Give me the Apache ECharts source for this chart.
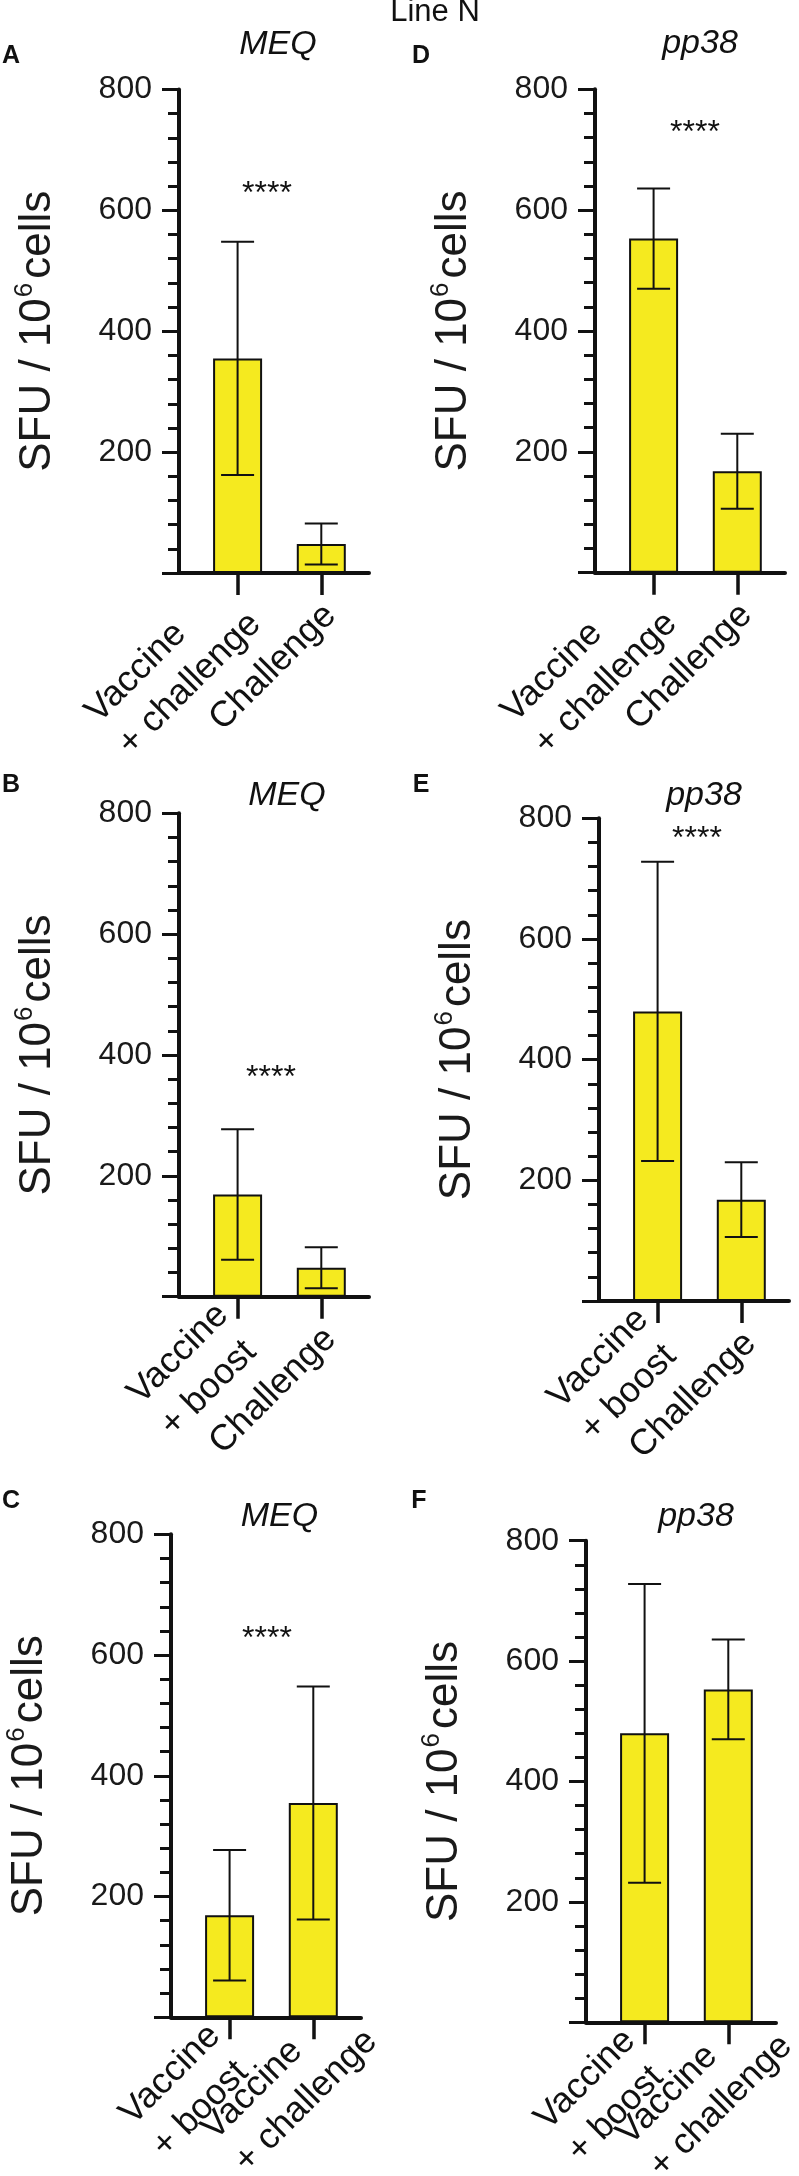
<!DOCTYPE html>
<html>
<head>
<meta charset="utf-8">
<script src="https://cdn.jsdelivr.net/npm/echarts@6/dist/echarts.min.js"></script>
<style>
html, body { margin: 0; padding: 0; background: #fff; }
#chart { width: 799px; height: 2176px; }
</style>
</head>
<body>
<div id="chart"></div>
<script>
// categories on the x axes
var catsChallenge = ['Vaccine\n+ challenge', 'Challenge'];
var catsBoost = ['Vaccine\n+ boost', 'Challenge'];
var catsBoostVsChallenge = ['Vaccine\n+ boost', 'Vaccine\n+ challenge'];

// MEQ, mean and SD (SFU / 10^6 cells)
var meqA = [355, 48];
var meqA_sd = [193, 34];
var meqB = [169, 48];
var meqB_sd = [108, 34];
var meqC = [169, 355];
var meqC_sd = [108, 193];

// pp38, mean and SD
var pp38D = [553, 168];
var pp38D_sd = [83, 62];
var pp38E = [480, 168];
var pp38E_sd = [248, 62];
var pp38F = [480, 553];
var pp38F_sd = [248, 83];

// y axis ticks
var yTicks = [0, 200, 400, 600, 800];

var font = 'Liberation Sans, Arial, Helvetica, sans-serif';
var ink = '#111';

// panel layout; in C and F the second label hangs lower, so it gets its own label-only axis
var panels = [
    { letter: 'A', title: 'MEQ',  cats: catsChallenge,        mean: meqA,  sd: meqA_sd,  left: 179, top: 89.5,   bottom: 573,    lx: 11,  ly: 56,   tx: 278, ty: 45,     star: [267, 194],  far: false },
    { letter: 'D', title: 'pp38', cats: catsChallenge,        mean: pp38D, sd: pp38D_sd, left: 595, top: 89.3,   bottom: 572.7,  lx: 421, ly: 56,   tx: 700, ty: 44,     star: [695, 133],  far: false },
    { letter: 'B', title: 'MEQ',  cats: catsBoost,            mean: meqB,  sd: meqB_sd,  left: 179, top: 813.3,  bottom: 1296.7, lx: 11,  ly: 785,  tx: 287, ty: 795.5,  star: [271, 1078], far: false },
    { letter: 'E', title: 'pp38', cats: catsBoost,            mean: pp38E, sd: pp38E_sd, left: 599, top: 818.3,  bottom: 1301,   lx: 421, ly: 785,  tx: 704, ty: 796,    star: [697, 839],  far: false },
    { letter: 'C', title: 'MEQ',  cats: catsBoostVsChallenge, mean: meqC,  sd: meqC_sd,  left: 171, top: 1534.3, bottom: 2017.3, lx: 11,  ly: 1501, tx: 279.5, ty: 1516.5, star: [267, 1639], far: true },
    { letter: 'F', title: 'pp38', cats: catsBoostVsChallenge, mean: pp38F, sd: pp38F_sd, left: 586, top: 1540.7, bottom: 2022.3, lx: 419, ly: 1501, tx: 696, ty: 1517,   star: null,        far: true }
];

var xMin = -0.7, xMax = 1.57;
var labelFont = 36;

function errorBar(params, api) {
    var x = api.value(0);
    var lo = api.coord([x, api.value(1)]);
    var hi = api.coord([x, api.value(2)]);
    var half = 16.5;
    var st = { stroke: ink, lineWidth: 2 };
    return {
        type: 'group',
        children: [
            { type: 'line', shape: { x1: lo[0], y1: lo[1], x2: hi[0], y2: hi[1] }, style: st },
            { type: 'line', shape: { x1: hi[0] - half, y1: hi[1], x2: hi[0] + half, y2: hi[1] }, style: st },
            { type: 'line', shape: { x1: lo[0] - half, y1: lo[1], x2: lo[0] + half, y2: lo[1] }, style: st }
        ]
    };
}

function richCat(t) {
    var lines = t.split('\n');
    if (lines.length === 1) return '{s|' + lines[0] + '}';
    return '{a|' + lines[0] + '}\n{b|' + lines[1] + '}';
}

function catLabel(cats) {
    return function (v) {
        var t = cats[Math.floor(v + 0.001)];
        return t === undefined ? '' : richCat(t);
    };
}

function lbl(lh) {
    return { fontSize: labelFont, fontFamily: font, color: ink, lineHeight: lh, align: 'left' };
}
var labelRich = { s: lbl(46), a: lbl(24), b: lbl(68) };

var grids = [], xAxes = [], yAxes = [], series = [], graphics = [], extraAxes = [];

graphics.push({ type: 'text', x: 435, y: 12, style: { text: 'Line N', fontSize: 31, fontFamily: font, fill: ink, align: 'center', verticalAlign: 'middle' } });

panels.forEach(function (p, i) {
    grids.push({ left: p.left, top: p.top, width: 190, height: p.bottom - p.top, containLabel: false, outerBoundsMode: 'none' });

    xAxes.push({
        gridIndex: i,
        type: 'value',
        position: 'bottom',
        min: xMin,
        max: xMax,
        z: 5,
        splitLine: { show: false },
        axisLine: { show: true, onZero: false, lineStyle: { color: ink, width: 4 } },
        axisTick: { show: true, customValues: [0, 1], length: 22, lineStyle: { color: ink, width: 3.5 } },
        axisLabel: {
            customValues: p.far ? [0.108] : [0.108, 1.108],
            hideOverlap: false,
            showMinLabel: true,
            showMaxLabel: true,
            rotate: 45,
            margin: 37,
            color: ink,
            fontFamily: font,
            fontSize: labelFont,
            formatter: catLabel(p.cats),
            rich: labelRich
        }
    });

    if (p.far) {
        // label-only axis for the second category, anchored at its lower-left start
        extraAxes.push({
            gridIndex: i,
            type: 'value',
            position: 'bottom',
            offset: 0,
            min: xMin,
            max: xMax,
            splitLine: { show: false },
            axisLine: { show: false, onZero: false },
            axisTick: { show: false },
            axisLabel: {
                customValues: [0.029],
                hideOverlap: false,
                showMinLabel: true,
                showMaxLabel: true,
                rotate: 45,
                align: 'left',
                margin: 141,
                color: ink,
                fontFamily: font,
                fontSize: labelFont,
                formatter: (function (t) { return function () { return richCat(t); }; })(p.cats[1]),
                rich: labelRich
            }
        });
    }

    yAxes.push({
        gridIndex: i,
        type: 'value',
        min: yTicks[0],
        max: yTicks[yTicks.length - 1],
        interval: 200,
        splitLine: { show: false },
        minorSplitLine: { show: false },
        axisLine: { show: true, onZero: false, lineStyle: { color: ink, width: 4 } },
        axisTick: { show: true, length: 17, lineStyle: { color: ink, width: 3 } },
        minorTick: { show: true, splitNumber: 5, length: 11, lineStyle: { color: ink, width: 3 } },
        axisLabel: {
            margin: 27,
            color: '#1a1a1a',
            fontFamily: font,
            fontSize: 32,
            formatter: function (v) { return v === 0 ? '' : String(v); }
        },
        name: '{n|SFU / 10}{s|6}{n|cells}',
        nameLocation: 'middle',
        nameRotate: 90,
        nameGap: 115,
        nameMoveOverlap: false,
        nameTextStyle: {
            rich: {
                n: { fontSize: 44, fontFamily: font, color: '#1a1a1a', lineHeight: 52 },
                s: { fontSize: 26, fontFamily: font, color: '#1a1a1a', lineHeight: 26, verticalAlign: 'top', padding: [0, 4, 0, 1] }
            }
        }
    });

    series.push({
        type: 'bar',
        xAxisIndex: i,
        yAxisIndex: i,
        barWidth: 49,
        silent: true,
        itemStyle: { color: '#f5ea1f', borderColor: ink, borderWidth: 2 },
        data: p.mean.map(function (m, j) { return [j, m]; })
    });

    series.push({
        type: 'custom',
        xAxisIndex: i,
        yAxisIndex: i,
        silent: true,
        z: 4,
        renderItem: errorBar,
        encode: { x: 0, y: [1, 2] },
        data: p.mean.map(function (m, j) { return [j, m - p.sd[j], m + p.sd[j]]; })
    });

    graphics.push({ type: 'text', x: p.lx, y: p.ly, style: { text: p.letter, fontSize: 25, fontWeight: 'bold', fontFamily: font, fill: ink, align: 'center', verticalAlign: 'middle' } });
    graphics.push({ type: 'text', x: p.tx, y: p.ty, style: { text: p.title, fontSize: 34, fontStyle: 'italic', fontFamily: font, fill: ink, align: 'center', verticalAlign: 'middle' } });
    if (p.star) {
        graphics.push({ type: 'text', x: p.star[0], y: p.star[1], style: { text: '****', fontSize: 32, fontFamily: font, fill: ink, align: 'center', verticalAlign: 'middle' } });
    }
});

var chart = echarts.init(document.getElementById('chart'), null, { renderer: 'canvas' });
chart.setOption({
    animation: false,
    backgroundColor: '#fff',
    textStyle: { fontFamily: font },
    grid: grids,
    xAxis: xAxes.concat(extraAxes),
    yAxis: yAxes,
    series: series,
    graphic: graphics
});
</script>
</body>
</html>
